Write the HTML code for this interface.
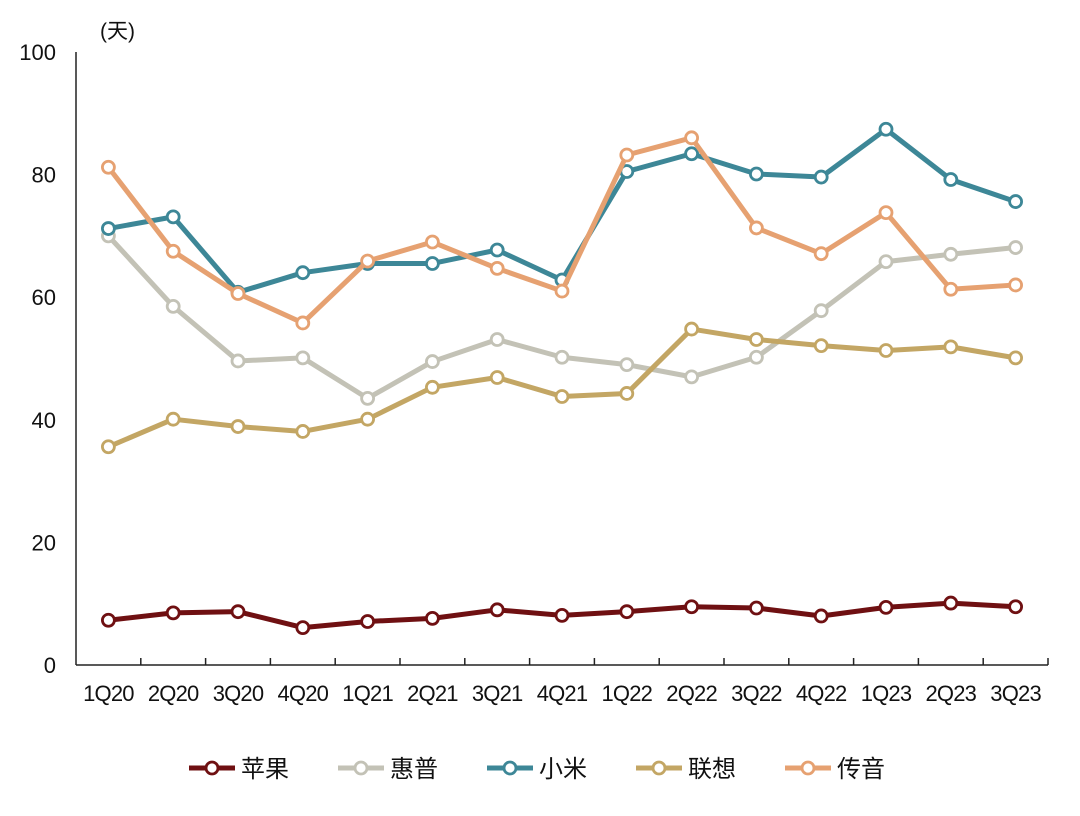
<!DOCTYPE html>
<html><head><meta charset="utf-8">
<style>
html,body{margin:0;padding:0;background:#fff;}
svg text{font-family:"Liberation Sans","Noto Sans CJK SC",sans-serif;fill:#111;}
</style></head>
<body>
<svg id="chart" width="1080" height="811" xmlns="http://www.w3.org/2000/svg"></svg>
<script>
const categories=["1Q20","2Q20","3Q20","4Q20","1Q21","2Q21","3Q21","4Q21","1Q22","2Q22","3Q22","4Q22","1Q23","2Q23","3Q23"];
const yTicks=[0,20,40,60,80,100];
const seriesNames=["苹果","惠普","小米","联想","传音"];
const apple=[7.3,8.5,8.7,6.1,7.1,7.6,9.0,8.1,8.7,9.5,9.3,8.0,9.4,10.1,9.5];
const hp=[70,58.5,49.6,50.1,43.5,49.5,53.1,50.2,49.0,47.0,50.2,57.8,65.8,67,68.1];
const xiaomi=[71.2,73.1,60.8,64.0,65.5,65.5,67.7,62.8,80.5,83.4,80.1,79.6,87.4,79.2,75.6];
const lenovo=[35.6,40.1,38.9,38.1,40.1,45.3,46.9,43.8,44.3,54.8,53.1,52.1,51.3,51.9,50.1];
const transsion=[81.2,67.5,60.6,55.8,65.9,69.0,64.7,61.0,83.2,86.0,71.3,67.1,73.8,61.3,62.0];

const series=[apple,hp,xiaomi,lenovo,transsion];
const colors=["#6f1012","#c3c2b6","#3d8797","#c3a664","#e6a171"];
const keys=["apple","hp","xiaomi","lenovo","transsion"];
const NS="http://www.w3.org/2000/svg";
const svg=document.getElementById("chart");
const L=76,R=1048,T=52,B=665;
const bw=(R-L)/categories.length;
const x=i=>L+bw*(i+0.5);
const y=v=>B-(v/100)*(B-T);
function mk(tag,attrs,parent){const e=document.createElementNS(NS,tag);for(const k in attrs)e.setAttribute(k,attrs[k]);(parent||svg).appendChild(e);return e;}

let ax=mk("line",{x1:L,y1:T,x2:L,y2:B,stroke:"#222","stroke-width":1.5});


let bx=mk("line",{x1:L,y1:B,x2:R,y2:B,stroke:"#222","stroke-width":1.5});


for(let i=1;i<=categories.length;i++){
  const t=mk("line",{x1:L+bw*i,y1:B,x2:L+bw*i,y2:B-7,stroke:"#222","stroke-width":1.5});
  
  
}
yTicks.forEach(v=>{
  const t=mk("text",{x:56,y:y(v)+8,"text-anchor":"end","font-size":22});
  t.textContent=v;
  
  
});
categories.forEach((c,i)=>{
  const t=mk("text",{x:x(i),y:701,"text-anchor":"middle","font-size":22,"letter-spacing":"-0.8"});
  t.textContent=c;
  
  
});
const unit=mk("text",{x:100,y:38,"font-size":21});
unit.textContent="(天)";



series.forEach((s,k)=>{
  const g=mk("g",{});
  
  
  const pl=mk("polyline",{points:s.map((v,i)=>x(i)+","+y(v)).join(" "),fill:"none",stroke:colors[k],"stroke-width":5,"stroke-linejoin":"round"},g);
  
  
  s.forEach((v,i)=>{
    const c=mk("circle",{cx:x(i),cy:y(v),r:6,fill:"#fff",stroke:colors[k],"stroke-width":2.8},g);
    
    
  });
});

const lx=[189,338,487,636,785];
seriesNames.forEach((n,k)=>{
  const g=mk("g",{});
  
  
  mk("line",{x1:lx[k],y1:768,x2:lx[k]+46,y2:768,stroke:colors[k],"stroke-width":5},g);
  mk("circle",{cx:lx[k]+23,cy:768,r:6,fill:"#fff",stroke:colors[k],"stroke-width":2.8},g);
  const t=mk("text",{x:lx[k]+52,y:777,"font-size":24},g);
  t.textContent=n;
});
</script>
</body></html>
